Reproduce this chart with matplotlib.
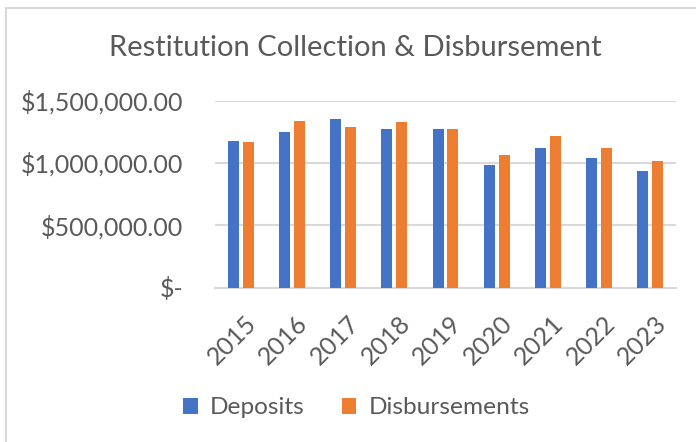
import numpy as np
import matplotlib.pyplot as plt
import matplotlib.transforms as mtransforms
from matplotlib.ticker import FuncFormatter

# -----------------------------
# Data
# -----------------------------
years = ["2015", "2016", "2017", "2018", "2019", "2020", "2021", "2022", "2023"]
deposits = [1176000, 1246000, 1353000, 1270000, 1275000, 983000, 1120000, 1039000, 932000]
disbursements = [1168000, 1337000, 1291000, 1326000, 1272000, 1063000, 1219000, 1120000, 1015000]
y_ticks = [0, 500000, 1000000, 1500000]

blue = "#4472C4"
orange = "#ED7D31"
text_color = "#595959"
grid_color = "#D9D9D9"

plt.rcParams["font.family"] = ["Lato", "DejaVu Sans"]

fig = plt.figure(figsize=(6.96, 4.42), dpi=100)
ax = fig.add_axes([215 / 696, 1 - 287.5 / 442, (676 - 215) / 696, (287.5 - 100.5) / 442])

# -----------------------------
# Bars
# -----------------------------
x = np.arange(len(years))
w = 0.215
ax.bar(x - 0.145, deposits, width=w, color=blue, label="Deposits", zorder=3)
ax.bar(x + 0.145, disbursements, width=w, color=orange, label="Disbursements", zorder=3)

ax.set_xlim(-0.5, len(years) - 0.5)
ax.set_ylim(0, 1500000)
ax.set_yticks(y_ticks)


def money(v, pos):
    if v == 0:
        return "$-"
    return f"${v:,.2f}"


ax.yaxis.set_major_formatter(FuncFormatter(money))
ax.grid(axis="y", color=grid_color, linewidth=1.5, zorder=0)
ax.set_axisbelow(True)

for s in ["top", "right", "left"]:
    ax.spines[s].set_visible(False)
ax.spines["bottom"].set_color(grid_color)
ax.spines["bottom"].set_linewidth(1.5)

ax.tick_params(axis="both", length=0, colors=text_color, labelsize=18)
ax.tick_params(axis="y", pad=23)
ax.set_xticks(x)
ax.set_xticklabels(years, rotation=45, ha="right", rotation_mode="anchor")
ax.tick_params(axis="x", pad=17)
shift = mtransforms.ScaledTranslation(4 / 100, 0, fig.dpi_scale_trans)
for lbl in ax.get_xticklabels():
    lbl.set_transform(lbl.get_transform() + shift)

fig.text(355 / 696, 1 - 48 / 442, "Restitution Collection & Disbursement",
         ha="center", va="center", fontsize=21, color=text_color)

fig.legend(loc="center", bbox_to_anchor=(356.5 / 696, 1 - 408 / 442), ncol=2,
           frameon=False, fontsize=17.6, labelcolor=text_color,
           handlelength=0.6, handleheight=0.6, handletextpad=0.5, columnspacing=1.5)

# chart border (left and top edges visible)
fig.add_artist(plt.Line2D([5.5 / 696, 5.5 / 696], [0, 1 - 7.5 / 442], color=grid_color, lw=1.5))
fig.add_artist(plt.Line2D([5.5 / 696, 1], [1 - 7.5 / 442, 1 - 7.5 / 442], color=grid_color, lw=1.5))

fig.savefig("out.png", dpi=100)
